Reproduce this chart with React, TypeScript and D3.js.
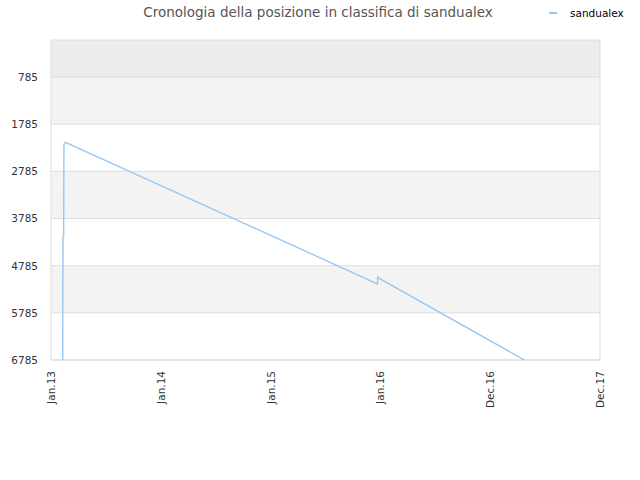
import * as React from 'react';
import * as d3 from 'd3';

const title = 'Cronologia della posizione in classifica di sandualex';
const seriesName = 'sandualex';

const yTicks = [785, 1785, 2785, 3785, 4785, 5785, 6785];
const xTickDates = ['2013-01-01', '2014-01-01', '2015-01-01', '2016-01-01', '2016-12-31', '2017-12-31'];
const xTickLabels = ['Jan.13', 'Jan.14', 'Jan.15', 'Jan.16', 'Dec.16', 'Dec.17'];

const dates = [
	'2013-02-09', '2013-02-09', '2013-02-10', '2013-02-12', '2013-02-13',
	'2013-02-15', '2013-02-18', '2015-12-22', '2015-12-23', '2015-12-24',
	'2017-04-25', '2017-05-10',
];
const ranks = [
	7200, 6080, 4170, 4170, 2230,
	2190, 2170, 5170, 5030, 5040,
	6790, 6950,
];

const W = 640, H = 480;
const M = {left: 51, right: 600, top: 40, bottom: 360};

const App = () => {
	const parse = d3.timeParse('%Y-%m-%d');
	const x = d3.scaleTime()
		.domain([parse('2013-01-01'), parse('2017-12-31')])
		.range([M.left, M.right]);
	const y = d3.scaleLinear().domain([1, 6785]).range([M.top, M.bottom]);

	const pts = dates.map((d, i) => [x(parse(d)), y(ranks[i])] as [number, number]);
	const line = d3.line();

	const bandEdges = [1, ...yTicks];
	const bandFill = (i) => i === 0 ? '#ececec' : (i % 2 === 1 ? '#f3f3f3' : '#ffffff');

	return (
		<svg width={W} height={H} style={{display: 'block', position: 'absolute', left: 0, top: 0}}
			fontFamily="'DejaVu Sans', sans-serif">
			<rect width={W} height={H} fill="#fff"/>
			<text x={318} y={17} textAnchor="middle" fontSize={13.5} fill="#555">{title}</text>
			<line x1={549} x2={557} y1={13} y2={13} stroke="#99c7f3" strokeWidth={2}/>
			<text x={570} y={17} fontSize={10.5} fill="#000">{seriesName}</text>

			{bandEdges.slice(0, -1).map((v, i) => (
				<rect key={'b' + i} x={M.left} width={M.right - M.left}
					y={y(v)} height={y(bandEdges[i + 1]) - y(v)} fill={bandFill(i)}/>
			))}
			{yTicks.map(t => (
				<g key={'y' + t}>
					<line x1={M.left} x2={M.right} y1={y(t)} y2={y(t)} stroke="#dddddd"/>
					<text x={38} y={y(t) + 4} textAnchor="end" fontSize={10.5} fill="#333">{t}</text>
				</g>
			))}
			<rect x={M.left} y={M.top} width={M.right - M.left} height={M.bottom - M.top}
				fill="none" stroke="#dddddd"/>

			<defs>
				<clipPath id="plot">
					<rect x={M.left} y={M.top} width={M.right - M.left} height={M.bottom - M.top}/>
				</clipPath>
			</defs>
			<path d={line(pts)} fill="none" stroke="#99c7f3" strokeWidth={1.4} clipPath="url(#plot)"/>

			{xTickDates.map((d, i) => {
				const px = x(parse(d));
				return (
					<text key={'x' + d} transform={`translate(${px + 4},${371}) rotate(-90)`}
						textAnchor="end" fontSize={10.5} fill="#333">{xTickLabels[i]}</text>
				);
			})}
		</svg>
	);
};

export default App;
